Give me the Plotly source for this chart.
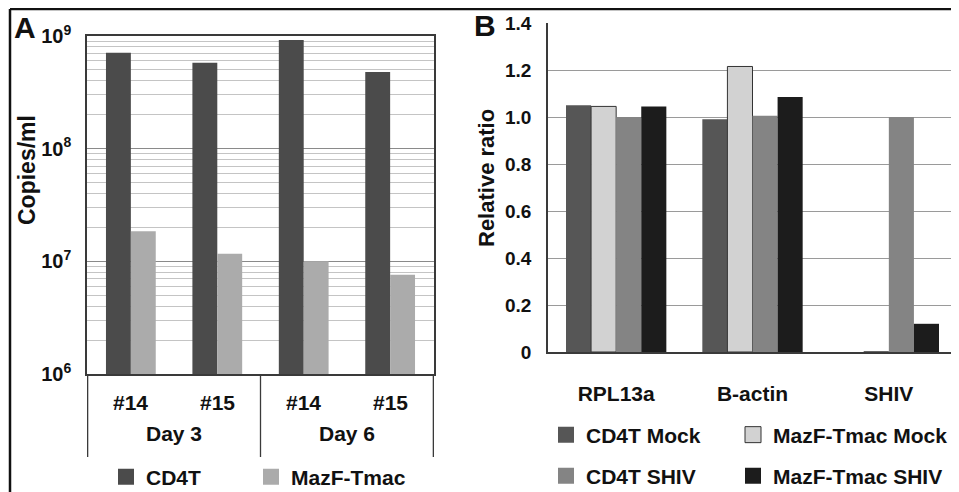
import plotly.graph_objects as go

# ---------------- data ----------------
days = ["Day 3", "Day 3", "Day 6", "Day 6"]
animals = ["#14", "#15", "#14", "#15"]
day_groups = ["Day 3", "Day 6"]
cd4t_copies = [7.1e8, 5.8e8, 9.2e8, 4.8e8]
mazf_copies = [1.85e7, 1.17e7, 1.0e7, 7.6e6]
log_tickvals = [1e6, 1e7, 1e8, 1e9]
log_ticktext = ["10<sup>6</sup>", "10<sup>7</sup>", "10<sup>8</sup>", "10<sup>9</sup>"]

genes = ["RPL13a", "B-actin", "SHIV"]
cd4t_mock = [1.05, 0.99, 0]
mazf_mock = [1.045, 1.215, 0]
cd4t_shiv = [1.0, 1.005, 1.0]
mazf_shiv = [1.045, 1.085, 0.12]
ratio_tickvals = [0, 0.2, 0.4, 0.6, 0.8, 1.0, 1.2, 1.4]
ratio_ticktext = ["0", "0.2", "0.4", "0.6", "0.8", "1.0", "1.2", "1.4"]

# page body adds an 8px margin, so the figure is slightly smaller and offset
OFF = 8
W, H = 959 - OFF, 492 - OFF
FONT = "Liberation Sans"
AX = "#3a3a3a"

def px(x):
    return (x - OFF) / W

def py(y):
    return 1 - (y - OFF) / H

fig = go.Figure()

# ---------------- panel A ----------------
xa = [days, animals]
wA = 0.288
fig.add_trace(go.Bar(x=xa, y=cd4t_copies, name="CD4T", xaxis="x", yaxis="y",
                     marker=dict(color="#4b4b4b", line=dict(width=0)),
                     width=wA, offset=-wA, showlegend=False))
fig.add_trace(go.Bar(x=xa, y=mazf_copies, name="MazF-Tmac", xaxis="x", yaxis="y",
                     marker=dict(color="#ababab", line=dict(width=0)),
                     width=wA, offset=0, showlegend=False))

# ---------------- panel B ----------------
wB = 0.184
b_series = [
    ("CD4T Mock", cd4t_mock, "#565656", 0),
    ("MazF-Tmac Mock", mazf_mock, "#d2d2d2", 1),
    ("CD4T SHIV", cd4t_shiv, "#848484", 0),
    ("MazF-Tmac SHIV", mazf_shiv, "#1c1c1c", 0),
]
for i, (nm, vals, col, lw) in enumerate(b_series):
    fig.add_trace(go.Bar(x=genes, y=vals, name=nm, xaxis="x2", yaxis="y2",
                         marker=dict(color=col, line=dict(width=lw, color="#333333")),
                         width=wB, offset=-2 * wB + i * wB, showlegend=False))

# ---------------- legend proxies (one legend per entry) ----------------
def proxy(name, color, lw, legend, xaxis, yaxis):
    fig.add_trace(go.Scatter(x=[None], y=[None], name=name, mode="markers",
                             xaxis=xaxis, yaxis=yaxis, legend=legend,
                             marker=dict(symbol="square", size=16, color=color,
                                         line=dict(width=lw, color="#333333"))))

proxy("CD4T", "#4b4b4b", 0, "legend", "x", "y")
proxy("MazF-Tmac", "#ababab", 0, "legend2", "x", "y")
proxy(b_series[0][0], b_series[0][2], b_series[0][3], "legend3", "x2", "y2")
proxy(b_series[1][0], b_series[1][2], b_series[1][3], "legend4", "x2", "y2")
proxy(b_series[2][0], b_series[2][2], b_series[2][3], "legend5", "x2", "y2")
proxy(b_series[3][0], b_series[3][2], b_series[3][3], "legend6", "x2", "y2")

def leg(x, y):
    return dict(x=px(x), y=py(y), orientation="h", xanchor="left", yanchor="middle",
                bgcolor="rgba(0,0,0,0)", borderwidth=0,
                font=dict(family=FONT, size=21, color="#111111", weight="bold"))

fig.update_layout(
    width=W, height=H,
    margin=dict(l=0, r=0, t=0, b=0, autoexpand=False),
    paper_bgcolor="white", plot_bgcolor="white",
    font=dict(family=FONT, size=19, color="#111111", weight="bold"),
    barmode="group",
    xaxis=dict(domain=[px(87), px(434)], type="multicategory", anchor="y",
               showline=True, mirror=True, linecolor=AX, linewidth=1.5,
               showdividers=False, showticklabels=False, ticks="", showgrid=False,
               automargin=False),
    yaxis=dict(domain=[py(374), py(36)], type="log", range=[6, 9], anchor="x",
               tickmode="array", tickvals=log_tickvals, ticktext=log_ticktext,
               showline=True, mirror=True, linecolor=AX, linewidth=1.5,
               showgrid=True, gridcolor="#8a8a8a", gridwidth=1,
               minor=dict(dtick="D1", showgrid=True, gridcolor="#c4c4c4", gridwidth=1),
               ticks="outside", ticklen=10, tickcolor="rgba(0,0,0,0)",
               tickfont=dict(size=20), zeroline=False, automargin=False),
    xaxis2=dict(domain=[px(548), px(957)], range=[-0.5, 2.5], anchor="y2",
                showline=True, linecolor=AX, linewidth=1.5,
                ticks="outside", ticklen=22, tickcolor="rgba(0,0,0,0)",
                tickfont=dict(size=21), showgrid=False, automargin=False),
    yaxis2=dict(domain=[py(352), py(23)], range=[0, 1.4], anchor="x2",
                tickmode="array", tickvals=ratio_tickvals, ticktext=ratio_ticktext,
                showline=True, linecolor=AX, linewidth=1.5,
                showgrid=True, gridcolor="#9a9a9a", gridwidth=1,
                ticks="outside", ticklen=11, tickcolor="rgba(0,0,0,0)",
                tickfont=dict(size=19), zeroline=False, automargin=False),
    legend=leg(106, 477),
    legend2=leg(251, 477),
    legend3=leg(546, 435),
    legend4=leg(733, 435),
    legend5=leg(546, 476),
    legend6=leg(733, 476),
)

# category labels of panel A, drawn on the x axis
for i, a in enumerate(animals):
    fig.add_annotation(text=a, x=i, y=py(402), xref="x", yref="paper",
                       showarrow=False, font=dict(size=21), yanchor="middle")
for j, d in enumerate(day_groups):
    fig.add_annotation(text=d, x=2 * j + 0.5, y=py(433), xref="x", yref="paper",
                       showarrow=False, font=dict(size=21), yanchor="middle")
for xd in [-0.5, 1.5, 3.5]:
    fig.add_shape(type="line", xref="x", yref="paper", x0=xd, x1=xd,
                  y0=py(374), y1=py(457), line=dict(color=AX, width=1.3))

# frame lines
fig.add_shape(type="line", xref="paper", yref="paper", x0=px(10), x1=1.0,
              y0=py(9), y1=py(9), line=dict(color="#111111", width=2.5))
fig.add_shape(type="line", xref="paper", yref="paper", x0=px(10), x1=px(10),
              y0=py(9), y1=0, line=dict(color="#111111", width=2.5))

# panel letters and axis titles
fig.add_annotation(text="A", x=px(25), y=py(28), xref="paper", yref="paper",
                   showarrow=False, font=dict(size=30), xanchor="center", yanchor="middle")
fig.add_annotation(text="B", x=px(485), y=py(25), xref="paper", yref="paper",
                   showarrow=False, font=dict(size=30), xanchor="center", yanchor="middle")
fig.add_annotation(text="Copies/ml", x=px(27), y=py(170), xref="paper", yref="paper",
                   showarrow=False, textangle=-90, font=dict(size=23),
                   xanchor="center", yanchor="middle")
fig.add_annotation(text="Relative ratio", x=px(486), y=py(178), xref="paper", yref="paper",
                   showarrow=False, textangle=-90, font=dict(size=22),
                   xanchor="center", yanchor="middle")

fig.write_html("out.html")
